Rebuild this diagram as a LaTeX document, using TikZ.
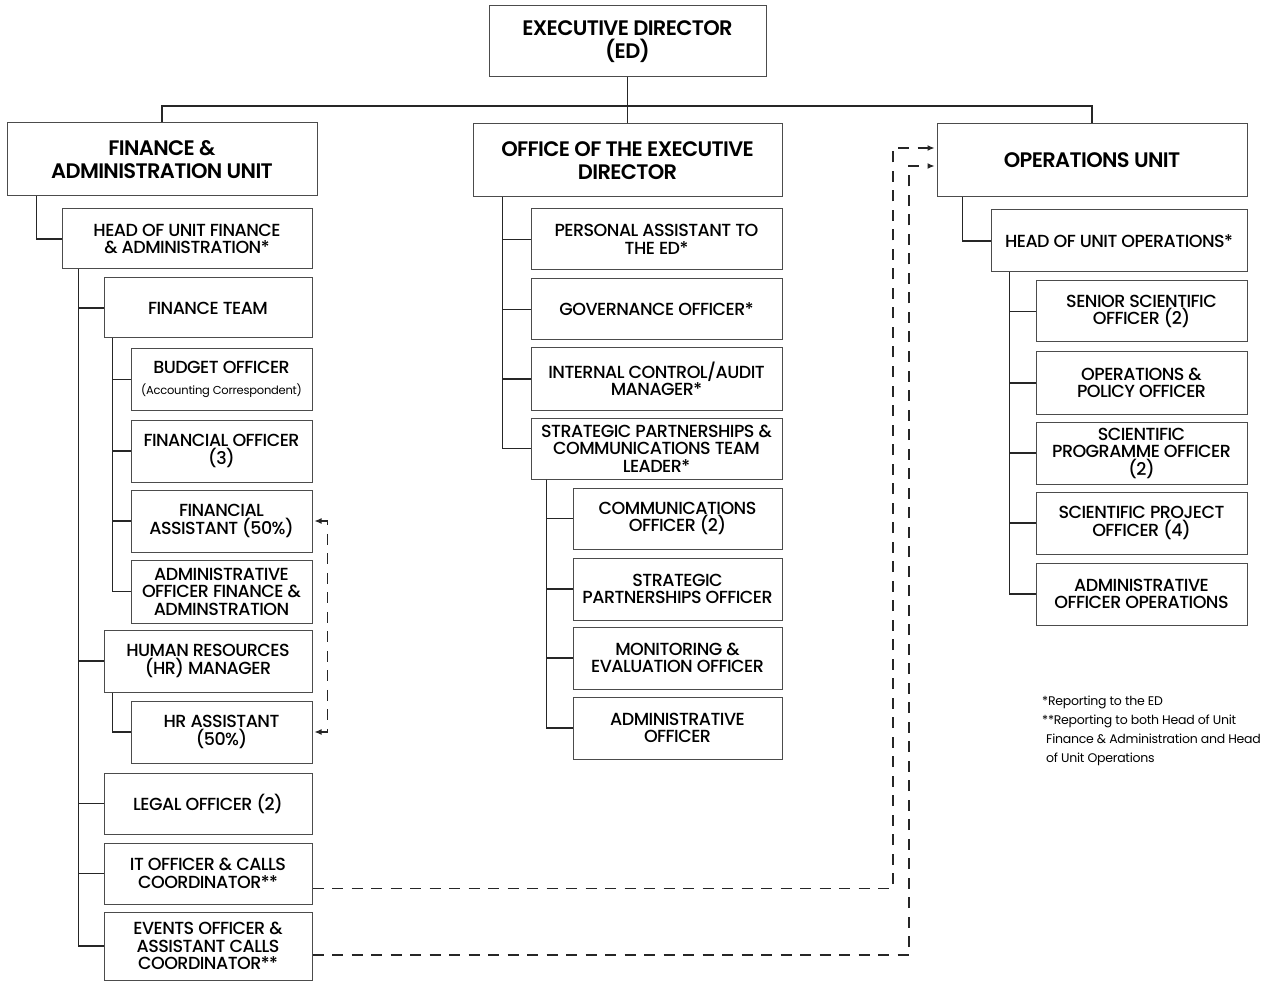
\documentclass[tikz,border=0pt]{standalone}
\usepackage{fontspec}
\setmainfont{Poppins}[UprightFont={* Medium},BoldFont={* SemiBold},LetterSpace=-3]
\newfontfamily\notefont{Poppins}[LetterSpace=-2]
\usetikzlibrary{arrows.meta}

\tikzset{
  box/.style={draw=black!70,line width=1pt,align=center,inner sep=0pt},
  unit/.style={box,font=\fontsize{21}{23}\selectfont\bfseries},
  role/.style={box,font=\fontsize{17.5}{17.5}\selectfont},
  link/.style={line width=1.1pt,black!85},
  dashlink/.style={line width=1.2pt,black!85,dash pattern=on 11pt off 8.5pt,-{Latex[length=7pt,width=6pt]}},
}

\begin{document}
\begin{tikzpicture}[x=1pt,y=-1pt]
  \useasboundingbox (0,0) rectangle (1271,981);
  \clip (0,0) rectangle (1271,981);

  % top level
  \begin{scope}[every node/.style={unit,minimum height=73}]
    \node (ed)  at (627.5,41.5) [minimum width=277,minimum height=71] {EXECUTIVE DIRECTOR\\(ED)};
    \node (fa)  at (162,159.5)  [minimum width=310] {FINANCE \&\\ADMINISTRATION UNIT};
    \node (oed) at (627.5,160.5) [minimum width=309] {OFFICE OF THE EXECUTIVE\\DIRECTOR};
    \node (ops) at (1092,160.5) [minimum width=310] {OPERATIONS UNIT};
  \end{scope}

  % finance & administration
  \begin{scope}[every node/.style={role,minimum height=61}]
    \node (hfa)    at (187,239)    [minimum width=250,minimum height=60] {HEAD OF UNIT FINANCE\\\& ADMINISTRATION*};
    \node (ft)     at (208,308)    [minimum width=208,minimum height=60] {FINANCE TEAM};
    \node (budget) at (221.5,379.5) [minimum width=181] {BUDGET OFFICER\\[4pt]{\notefont\fontsize{11.5}{12}\selectfont(Accounting Correspondent)}};
    \node (fo)     at (221.5,451)  [minimum width=181,minimum height=62] {FINANCIAL OFFICER\\(3)};
    \node (fas)    at (221.5,521)  [minimum width=181,minimum height=62] {FINANCIAL\\ASSISTANT (50\%)};
    \node (aofa)   at (221.5,591.5) [minimum width=181,minimum height=63] {ADMINISTRATIVE\\OFFICER FINANCE \&\\ADMINSTRATION};
    \node (hrm)    at (208,661)    [minimum width=208,minimum height=62] {HUMAN RESOURCES\\(HR) MANAGER};
    \node (hra)    at (221.5,732)  [minimum width=181,minimum height=62] {HR ASSISTANT\\(50\%)};
    \node (legal)  at (208,803.5)  [minimum width=208] {LEGAL OFFICER (2)};
    \node (it)     at (208,873.5)  [minimum width=208] {IT OFFICER \& CALLS\\COORDINATOR**};
    \node (events) at (208,946)    [minimum width=208,minimum height=68] {EVENTS OFFICER \&\\ASSISTANT CALLS\\COORDINATOR**};
  \end{scope}

  % office of the executive director
  \begin{scope}[every node/.style={role,minimum height=61}]
    \node (pa)   at (656.5,239.5) [minimum width=251] {PERSONAL ASSISTANT TO\\THE ED*};
    \node (gov)  at (656.5,309.5) [minimum width=251] {GOVERNANCE OFFICER*};
    \node (ica)  at (656.5,379)   [minimum width=251,minimum height=62] {INTERNAL CONTROL/AUDIT\\MANAGER*};
    \node (spc)  at (656.5,448.5) [minimum width=251] {STRATEGIC PARTNERSHIPS \&\\COMMUNICATIONS TEAM\\LEADER*};
    \node (comm) at (677.5,518.5) [minimum width=209] {COMMUNICATIONS\\OFFICER (2)};
    \node (spo)  at (677.5,589)   [minimum width=209,minimum height=62] {STRATEGIC\\PARTNERSHIPS OFFICER};
    \node (me)   at (677.5,658)   [minimum width=209,minimum height=62] {MONITORING \&\\EVALUATION OFFICER};
    \node (adm)  at (677.5,728)   [minimum width=209,minimum height=62] {ADMINISTRATIVE\\OFFICER};
  \end{scope}

  % operations
  \begin{scope}[every node/.style={role,minimum height=62}]
    \node (hops)  at (1119,241)    [minimum width=256] {HEAD OF UNIT OPERATIONS*};
    \node (sso)   at (1141.5,311.5) [minimum width=211,minimum height=61] {SENIOR SCIENTIFIC\\OFFICER (2)};
    \node (opo)   at (1141.5,383)  [minimum width=211] {OPERATIONS \&\\POLICY OFFICER};
    \node (sprog) at (1141.5,453)  [minimum width=211] {SCIENTIFIC\\PROGRAMME OFFICER\\(2)};
    \node (sproj) at (1141.5,523)  [minimum width=211] {SCIENTIFIC PROJECT\\OFFICER (4)};
    \node (aops)  at (1141.5,594)  [minimum width=211] {ADMINISTRATIVE\\OFFICER OPERATIONS};
  \end{scope}

  \node (notes) [anchor=north west,align=left,inner sep=0pt,font=\notefont\fontsize{12.5}{19}\selectfont]
    at (1042,696) {*Reporting to the ED\\**Reporting to both Head of Unit\\\hspace*{4pt}Finance \& Administration and Head\\\hspace*{4pt}of Unit Operations};

  % solid connectors
  \coordinate (bar) at (627.5,106);
  \begin{scope}[link]
    \draw (ed.south) -- (bar);
    \draw (bar) -| (fa.north);
    \draw (bar) -- (oed.north);
    \draw (bar) -| (ops.north);

    \draw ([xshift=30pt]fa.south west) |- (hfa.west);
    \foreach \n in {ft,hrm,legal,it,events}
      \draw ([xshift=17pt]hfa.south west) |- (\n.west);
    \foreach \n in {budget,fo,fas,aofa}
      \draw ([xshift=9pt]ft.south west) |- (\n.west);
    \draw ([xshift=9pt]hrm.south west) |- (hra.west);

    \foreach \n in {pa,gov,ica,spc}
      \draw ([xshift=30pt]oed.south west) |- (\n.west);
    \foreach \n in {comm,spo,me,adm}
      \draw ([xshift=16pt]spc.south west) |- (\n.west);

    \draw ([xshift=26pt]ops.south west) |- (hops.west);
    \foreach \n in {sso,opo,sprog,sproj,aops}
      \draw ([xshift=19pt]hops.south west) |- (\n.west);
  \end{scope}

  % dashed reporting lines
  \coordinate (itturn) at (893,148);
  \coordinate (evturn) at (909,166);
  \draw[dashlink,{Latex[length=7pt,width=6pt]}-{Latex[length=7pt,width=6pt]},shorten <=2pt,shorten >=2pt]
    (fas.east) -| ([xshift=15pt]hra.east) -- (hra.east);
  \draw[dashlink,shorten >=2pt] ([yshift=-15pt]it.east) -| (itturn) -- (ops.west |- itturn);
  \draw[dashlink,shorten >=2pt] ([yshift=-9pt]events.east) -| (evturn) -- (ops.west |- evturn);
\end{tikzpicture}
\end{document}
